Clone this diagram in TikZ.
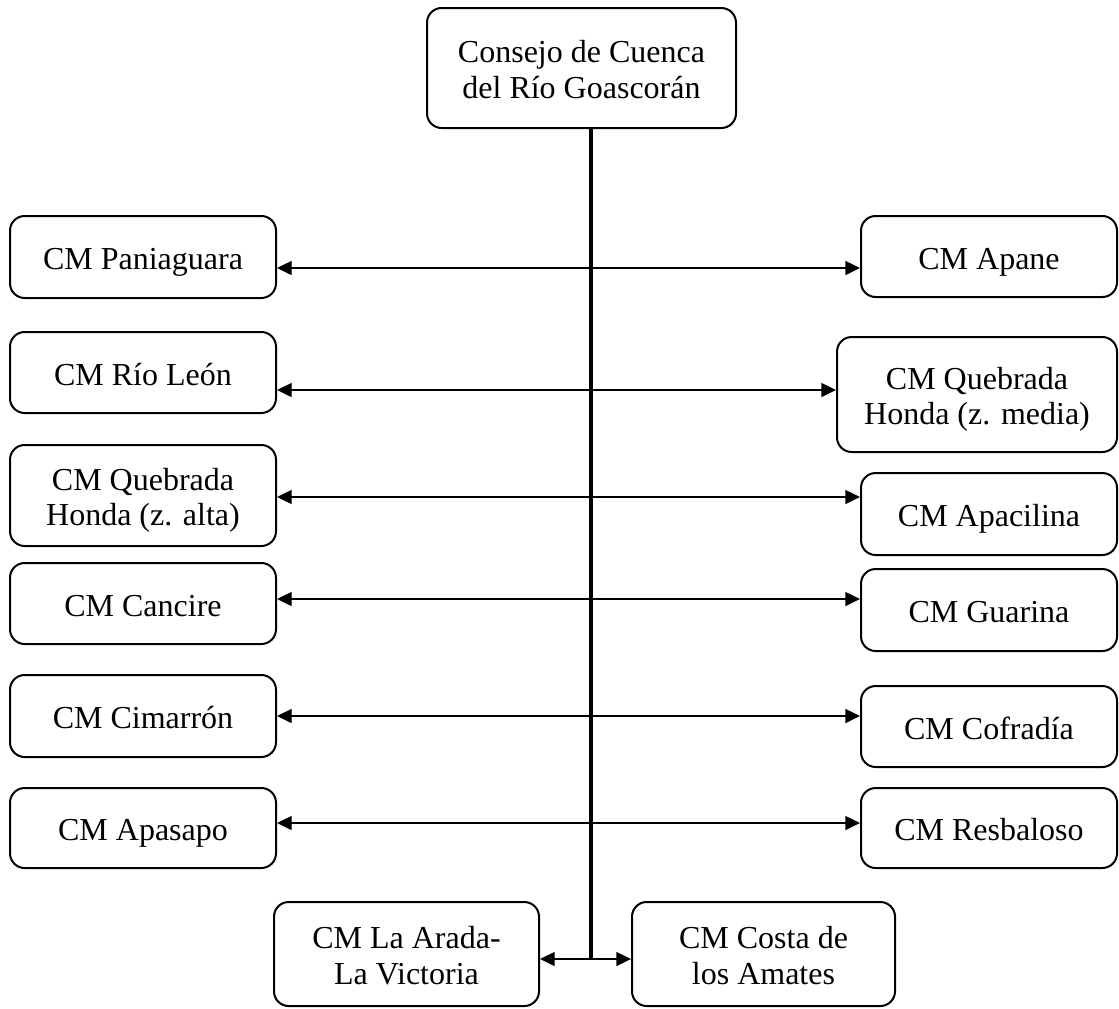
\documentclass[tikz,border=0pt]{standalone}
\usepackage{fontspec}
\setmainfont{Liberation Serif}
\usetikzlibrary{arrows.meta}
\newcommand{\vtxt}[1]{\begin{tabular}{@{}c@{}}#1\end{tabular}}
\begin{document}
\begin{tikzpicture}[x=0.75pt,y=-0.75pt,
  box/.style={draw=black, line width=1.5pt, rounded corners=11pt, fill=white, inner sep=0pt},
  lab/.style={inner sep=0pt, font=\fontsize{24}{26.5}\selectfont, yshift=-4.1pt},
  link/.style={line width=1pt, {Triangle[length=11pt,width=10.5pt]}-{Triangle[length=11pt,width=10.5pt]}},
  spine/.style={line width=2.4pt}]
\useasboundingbox (0,0) rectangle (1119,1008);
% top
\node[box, minimum width=309*0.75pt, minimum height=120*0.75pt] (top) at (581.5,68) {};
% left column
\node[box, minimum width=266*0.75pt, minimum height=82*0.75pt] (L1) at (143,257) {};
\node[box, minimum width=266*0.75pt, minimum height=81*0.75pt] (L2) at (143,372.5) {};
\node[box, minimum width=266*0.75pt, minimum height=101*0.75pt] (L3) at (143,495.5) {};
\node[box, minimum width=266*0.75pt, minimum height=81*0.75pt] (L4) at (143,603.5) {};
\node[box, minimum width=266*0.75pt, minimum height=82*0.75pt] (L5) at (143,716) {};
\node[box, minimum width=266*0.75pt, minimum height=80*0.75pt] (L6) at (143,828) {};
% right column
\node[box, minimum width=256*0.75pt, minimum height=81*0.75pt] (R1) at (989,256.5) {};
\node[box, minimum width=280*0.75pt, minimum height=115*0.75pt] (R2) at (977,394.5) {};
\node[box, minimum width=256*0.75pt, minimum height=82*0.75pt] (R3) at (989,514) {};
\node[box, minimum width=256*0.75pt, minimum height=82*0.75pt] (R4) at (989,610) {};
\node[box, minimum width=256*0.75pt, minimum height=81*0.75pt] (R5) at (989,726.5) {};
\node[box, minimum width=256*0.75pt, minimum height=80*0.75pt] (R6) at (989,828) {};
% bottom
\node[box, minimum width=265*0.75pt, minimum height=104*0.75pt] (B1) at (406.5,954) {};
\node[box, minimum width=263*0.75pt, minimum height=104*0.75pt] (B2) at (763.5,954) {};
% labels
\node[lab] (topt) at (top.center) {\vtxt{Consejo de Cuenca\\del Río Goascorán}};
\node[lab] (L1t) at (L1.center) {\vtxt{CM Paniaguara}};
\node[lab] (L2t) at (L2.center) {\vtxt{CM Río León}};
\node[lab] (L3t) at (L3.center) {\vtxt{CM Quebrada\\Honda (z. alta)}};
\node[lab] (L4t) at (L4.center) {\vtxt{CM Cancire}};
\node[lab] (L5t) at (L5.center) {\vtxt{CM Cimarrón}};
\node[lab] (L6t) at (L6.center) {\vtxt{CM Apasapo}};
\node[lab] (R1t) at (R1.center) {\vtxt{CM Apane}};
\node[lab] (R2t) at (R2.center) {\vtxt{CM Quebrada\\Honda (z. media)}};
\node[lab] (R3t) at (R3.center) {\vtxt{CM Apacilina}};
\node[lab] (R4t) at (R4.center) {\vtxt{CM Guarina}};
\node[lab] (R5t) at (R5.center) {\vtxt{CM Cofradía}};
\node[lab] (R6t) at (R6.center) {\vtxt{CM Resbaloso}};
\node[lab] (B1t) at (B1.center) {\vtxt{CM La Arada-\\La Victoria}};
\node[lab] (B2t) at (B2.center) {\vtxt{CM Costa de\\los Amates}};
% spine coordinates
\coordinate (s1) at (591,268);
\coordinate (s2) at (591,390);
\coordinate (s3) at (591,497);
\coordinate (s4) at (591,599);
\coordinate (s5) at (591,716);
\coordinate (s6) at (591,823);
\coordinate (sb) at (591,959);
\draw[spine] (top.south -| sb) -- (sb);
\draw[link] (L1.east |- s1) -- (R1.west |- s1);
\draw[link] (L2.east |- s2) -- (R2.west |- s2);
\draw[link] (L3.east |- s3) -- (R3.west |- s3);
\draw[link] (L4.east |- s4) -- (R4.west |- s4);
\draw[link] (L5.east |- s5) -- (R5.west |- s5);
\draw[link] (L6.east |- s6) -- (R6.west |- s6);
\draw[link] (B1.east |- sb) -- (B2.west |- sb);
\end{tikzpicture}
\end{document}
